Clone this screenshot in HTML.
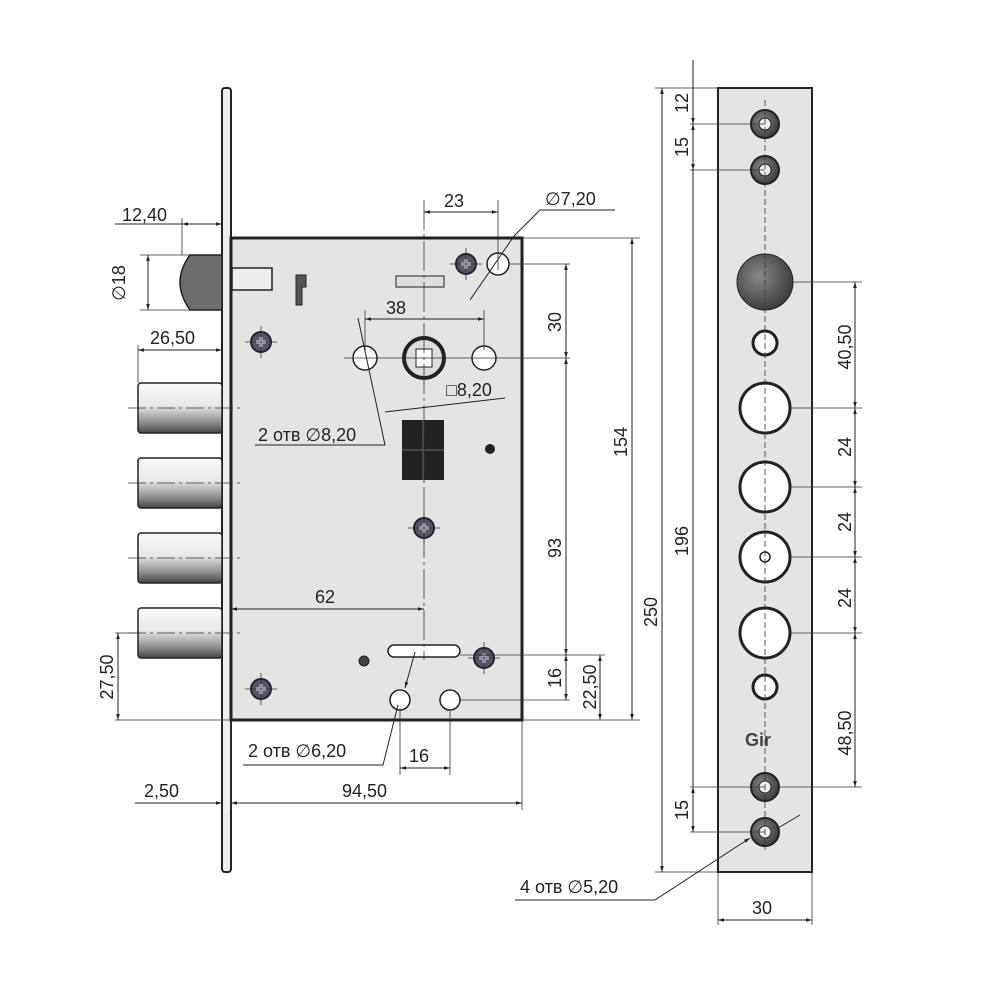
<!DOCTYPE html>
<html><head><meta charset="utf-8"><style>
html,body{margin:0;padding:0;background:#fff}
svg{display:block}
text{font-family:"Liberation Sans",Arial,sans-serif;font-size:18px;fill:#222}
</style></head><body>
<svg width="1000" height="1000" viewBox="0 0 1000 1000" xmlns="http://www.w3.org/2000/svg">
<defs>
<linearGradient id="cyl" x1="0" y1="0" x2="0" y2="1">
<stop offset="0" stop-color="#fafafa"/><stop offset="0.45" stop-color="#e8e8e8"/><stop offset="0.8" stop-color="#8a8a8a"/><stop offset="1" stop-color="#444"/></linearGradient>
<radialGradient id="dk" cx="0.4" cy="0.4" r="0.7"><stop offset="0" stop-color="#888"/><stop offset="1" stop-color="#333"/></radialGradient>
<marker id="a" viewBox="0 0 10 10" refX="10" refY="5" markerWidth="9" markerHeight="6" orient="auto-start-reverse"><path d="M0,2 L10,5 L0,8 z" fill="#222"/></marker>
<g id="scr"><circle r="10" fill="#556" stroke="#223" stroke-width="2"/><path d="M-5,0 H5 M0,-5 V5" stroke="#ccd" stroke-width="3"/><path d="M-16,0 H16 M0,-16 V16" stroke="#333" stroke-width="0.8"/></g>
</defs>

<rect x="222" y="88" width="9" height="784" rx="3" fill="#eee" stroke="#222" stroke-width="2"/>
<rect x="231" y="238" width="291" height="482" fill="#e6e4e2" stroke="#222" stroke-width="3"/>
<path d="M222,255 H190 Q170,282 190,310 H222 z" fill="#6e6c6c" stroke="#222" stroke-width="1.5"/>
<rect x="232" y="268" width="40" height="22" fill="#eee" stroke="#222" stroke-width="1.5"/>
<g stroke="#222" stroke-width="1.5">
<rect x="138" y="383" width="84" height="50" rx="3" fill="url(#cyl)"/>
<rect x="138" y="458" width="84" height="50" rx="3" fill="url(#cyl)"/>
<rect x="138" y="533" width="84" height="50" rx="3" fill="url(#cyl)"/>
<rect x="138" y="608" width="84" height="50" rx="3" fill="url(#cyl)"/>
</g>
<g stroke="#333" stroke-width="0.8" stroke-dasharray="18,4,3,4">
<line x1="128" y1="408" x2="244" y2="408"/><line x1="128" y1="483" x2="244" y2="483"/><line x1="128" y1="558" x2="244" y2="558"/><line x1="128" y1="633" x2="244" y2="633"/>
</g>
<path d="M296,275 h10 v12 h-4 v18 h-6 z" fill="#555" stroke="#222"/>
<rect x="396" y="276" width="48" height="11" fill="#ddd" stroke="#222"/>
<rect x="402" y="420" width="42" height="60" fill="#222"/>
<path d="M423,420 V480 M402,450 H444" stroke="#666"/>
<circle cx="424" cy="358" r="20" fill="#ddd" stroke="#222" stroke-width="4"/>
<rect x="416" y="349" width="16" height="18" fill="#fff" stroke="#222"/>
<circle cx="365" cy="358" r="12" fill="#fff" stroke="#222" stroke-width="1.5"/>
<circle cx="484" cy="358" r="12" fill="#fff" stroke="#222" stroke-width="1.5"/>
<circle cx="498" cy="264" r="11" fill="#fff" stroke="#222" stroke-width="1.5"/>
<circle cx="400" cy="700" r="10" fill="#fff" stroke="#222" stroke-width="1.5"/>
<circle cx="450" cy="700" r="10" fill="#fff" stroke="#222" stroke-width="1.5"/>
<rect x="388" y="645" width="72" height="12" rx="6" fill="#fff" stroke="#222" stroke-width="1.5"/>
<circle cx="490" cy="449" r="5" fill="#222"/><circle cx="364" cy="661" r="5" fill="#444" stroke="#222"/>
<use href="#scr" x="466" y="264"/><use href="#scr" x="261" y="342"/><use href="#scr" x="424" y="528"/><use href="#scr" x="484" y="658"/><use href="#scr" x="261" y="689"/>
<g stroke="#333" stroke-width="0.8" fill="none">
<line x1="424" y1="200" x2="424" y2="660" stroke-dasharray="30,4,3,4"/>
<line x1="498" y1="200" x2="498" y2="270"/>
<line x1="344" y1="358" x2="570" y2="358"/>
<line x1="365" y1="310" x2="365" y2="350"/><line x1="484" y1="310" x2="484" y2="350"/>
<line x1="510" y1="264" x2="570" y2="264"/>
<line x1="522" y1="238" x2="640" y2="238"/><line x1="522" y1="720" x2="640" y2="720"/>
<line x1="460" y1="655" x2="605" y2="655"/><line x1="460" y1="700" x2="570" y2="700"/>
<line x1="400" y1="710" x2="400" y2="775"/><line x1="450" y1="710" x2="450" y2="775"/>
<line x1="522" y1="720" x2="522" y2="810"/><line x1="231" y1="720" x2="231" y2="810"/>
<line x1="115" y1="720" x2="231" y2="720"/><line x1="115" y1="633" x2="140" y2="633"/>
<line x1="140" y1="255" x2="190" y2="255"/><line x1="140" y1="310" x2="190" y2="310"/>
<line x1="182" y1="218" x2="182" y2="255"/>
<line x1="138" y1="345" x2="138" y2="383"/>
</g>
<g stroke="#222" stroke-width="1" fill="none">
<line x1="115" y1="224" x2="182" y2="224"/><line x1="182" y1="224" x2="222" y2="224" marker-start="url(#a)" marker-end="url(#a)"/>
<line x1="148" y1="255" x2="148" y2="310" marker-start="url(#a)" marker-end="url(#a)"/>
<line x1="138" y1="350" x2="222" y2="350" marker-start="url(#a)" marker-end="url(#a)"/>
<line x1="424" y1="212" x2="498" y2="212" marker-start="url(#a)" marker-end="url(#a)"/>
<line x1="365" y1="319" x2="484" y2="319" marker-start="url(#a)" marker-end="url(#a)"/>
<line x1="566" y1="264" x2="566" y2="358" marker-start="url(#a)" marker-end="url(#a)"/>
<line x1="566" y1="358" x2="566" y2="655" marker-start="url(#a)" marker-end="url(#a)"/>
<line x1="566" y1="655" x2="566" y2="700" marker-start="url(#a)" marker-end="url(#a)"/>
<line x1="600" y1="655" x2="600" y2="720" marker-start="url(#a)" marker-end="url(#a)"/>
<line x1="632" y1="238" x2="632" y2="720" marker-start="url(#a)" marker-end="url(#a)"/>
<line x1="231" y1="609" x2="424" y2="609" marker-start="url(#a)" marker-end="url(#a)"/>
<line x1="118" y1="633" x2="118" y2="720" marker-start="url(#a)" marker-end="url(#a)"/>
<line x1="400" y1="768" x2="450" y2="768" marker-start="url(#a)" marker-end="url(#a)"/>
<line x1="135" y1="803" x2="222" y2="803" marker-end="url(#a)"/>
<line x1="231" y1="803" x2="522" y2="803" marker-start="url(#a)" marker-end="url(#a)"/>
<path d="M514,236 L540,210 H615"/><line x1="470" y1="300" x2="514" y2="236"/>
<path d="M255,445 H385 L358,318"/>
<path d="M385,412 L505,398"/>
<path d="M243,765 H383 L398,705"/>
<path d="M415,652 L405,688" marker-end="url(#a)"/>
</g>
<text x="122" y="221">12,40</text>
<text transform="translate(125,283) rotate(-90)" text-anchor="middle">∅18</text>
<text x="150" y="344">26,50</text>
<text x="444" y="207">23</text>
<text x="545" y="205">∅7,20</text>
<text x="386" y="314">38</text>
<text x="446" y="396">□8,20</text>
<text x="258" y="441">2 отв ∅8,20</text>
<text transform="translate(561,322) rotate(-90)" text-anchor="middle">30</text>
<text transform="translate(561,548) rotate(-90)" text-anchor="middle">93</text>
<text transform="translate(561,678) rotate(-90)" text-anchor="middle">16</text>
<text transform="translate(596,687) rotate(-90)" text-anchor="middle">22,50</text>
<text transform="translate(627,442) rotate(-90)" text-anchor="middle">154</text>
<text x="315" y="603">62</text>
<text transform="translate(113,677) rotate(-90)" text-anchor="middle">27,50</text>
<text x="248" y="757">2 отв  ∅6,20</text>
<text x="409" y="762">16</text>
<text x="144" y="797">2,50</text>
<text x="342" y="797">94,50</text>

<rect x="718" y="88" width="94" height="784" fill="#e6e4e2" stroke="#222" stroke-width="2"/>
<g stroke="#222">
<circle cx="765" cy="124" r="14" fill="url(#dk)" stroke-width="2"/><circle cx="765" cy="124" r="6" fill="#eee"/>
<circle cx="765" cy="170" r="14" fill="url(#dk)" stroke-width="2"/><circle cx="765" cy="170" r="6" fill="#eee"/>
<circle cx="765" cy="282" r="28" fill="url(#dk)" stroke-width="1"/>
<circle cx="765" cy="343" r="12" fill="#fff" stroke-width="3"/>
<circle cx="765" cy="408" r="25" fill="#fff" stroke-width="3"/>
<circle cx="765" cy="487" r="25" fill="#fff" stroke-width="3"/>
<circle cx="765" cy="557" r="25" fill="#fff" stroke-width="3"/><circle cx="765" cy="557" r="5" fill="#fff" stroke-width="1.5"/>
<circle cx="765" cy="633" r="25" fill="#fff" stroke-width="3"/>
<circle cx="765" cy="687" r="12" fill="#fff" stroke-width="3"/>
<circle cx="765" cy="787" r="14" fill="url(#dk)" stroke-width="2"/><circle cx="765" cy="787" r="6" fill="#eee"/>
<circle cx="765" cy="832" r="14" fill="url(#dk)" stroke-width="2"/><circle cx="765" cy="832" r="6" fill="#eee"/>
</g>
<text x="745" y="746" style="font-weight:bold;font-size:18px;fill:#444">Gir</text>
<g stroke="#333" stroke-width="0.8" fill="none">
<line x1="765" y1="100" x2="765" y2="850" stroke-dasharray="6,3"/>
<line x1="690" y1="124" x2="765" y2="124"/><line x1="690" y1="170" x2="765" y2="170"/>
<line x1="690" y1="787" x2="765" y2="787"/><line x1="690" y1="832" x2="765" y2="832"/>
<line x1="655" y1="88" x2="718" y2="88"/><line x1="655" y1="872" x2="718" y2="872"/>
<line x1="793" y1="282" x2="862" y2="282"/><line x1="790" y1="408" x2="862" y2="408"/><line x1="790" y1="487" x2="862" y2="487"/><line x1="790" y1="557" x2="862" y2="557"/><line x1="790" y1="633" x2="862" y2="633"/><line x1="779" y1="787" x2="862" y2="787"/>
<line x1="718" y1="872" x2="718" y2="925"/><line x1="812" y1="872" x2="812" y2="925"/>
</g>
<g stroke="#222" stroke-width="1" fill="none">
<line x1="662" y1="88" x2="662" y2="872" marker-start="url(#a)" marker-end="url(#a)"/>
<line x1="693" y1="60" x2="693" y2="124" marker-end="url(#a)"/>
<line x1="693" y1="124" x2="693" y2="170" marker-start="url(#a)" marker-end="url(#a)"/>
<line x1="693" y1="170" x2="693" y2="787" />
<line x1="693" y1="787" x2="693" y2="832" marker-start="url(#a)" marker-end="url(#a)"/>
<line x1="855" y1="282" x2="855" y2="408" marker-start="url(#a)" marker-end="url(#a)"/>
<line x1="855" y1="408" x2="855" y2="487" marker-start="url(#a)" marker-end="url(#a)"/>
<line x1="855" y1="487" x2="855" y2="557" marker-start="url(#a)" marker-end="url(#a)"/>
<line x1="855" y1="557" x2="855" y2="633" marker-start="url(#a)" marker-end="url(#a)"/>
<line x1="855" y1="633" x2="855" y2="787" marker-start="url(#a)" marker-end="url(#a)"/>
<line x1="718" y1="920" x2="812" y2="920" marker-start="url(#a)" marker-end="url(#a)"/>
<path d="M515,900 H655 L750,838" marker-end="url(#a)"/><line x1="800" y1="815" x2="778" y2="828"/>
</g>
<text transform="translate(688,103) rotate(-90)" text-anchor="middle">12</text>
<text transform="translate(688,147) rotate(-90)" text-anchor="middle">15</text>
<text transform="translate(688,810) rotate(-90)" text-anchor="middle">15</text>
<text transform="translate(657,612) rotate(-90)" text-anchor="middle">250</text>
<text transform="translate(688,541) rotate(-90)" text-anchor="middle">196</text>
<text transform="translate(851,347) rotate(-90)" text-anchor="middle">40,50</text>
<text transform="translate(851,447) rotate(-90)" text-anchor="middle">24</text>
<text transform="translate(851,522) rotate(-90)" text-anchor="middle">24</text>
<text transform="translate(851,598) rotate(-90)" text-anchor="middle">24</text>
<text transform="translate(851,733) rotate(-90)" text-anchor="middle">48,50</text>
<text x="520" y="893">4 отв  ∅5,20</text>
<text x="752" y="914">30</text>
</svg>
</body></html>
